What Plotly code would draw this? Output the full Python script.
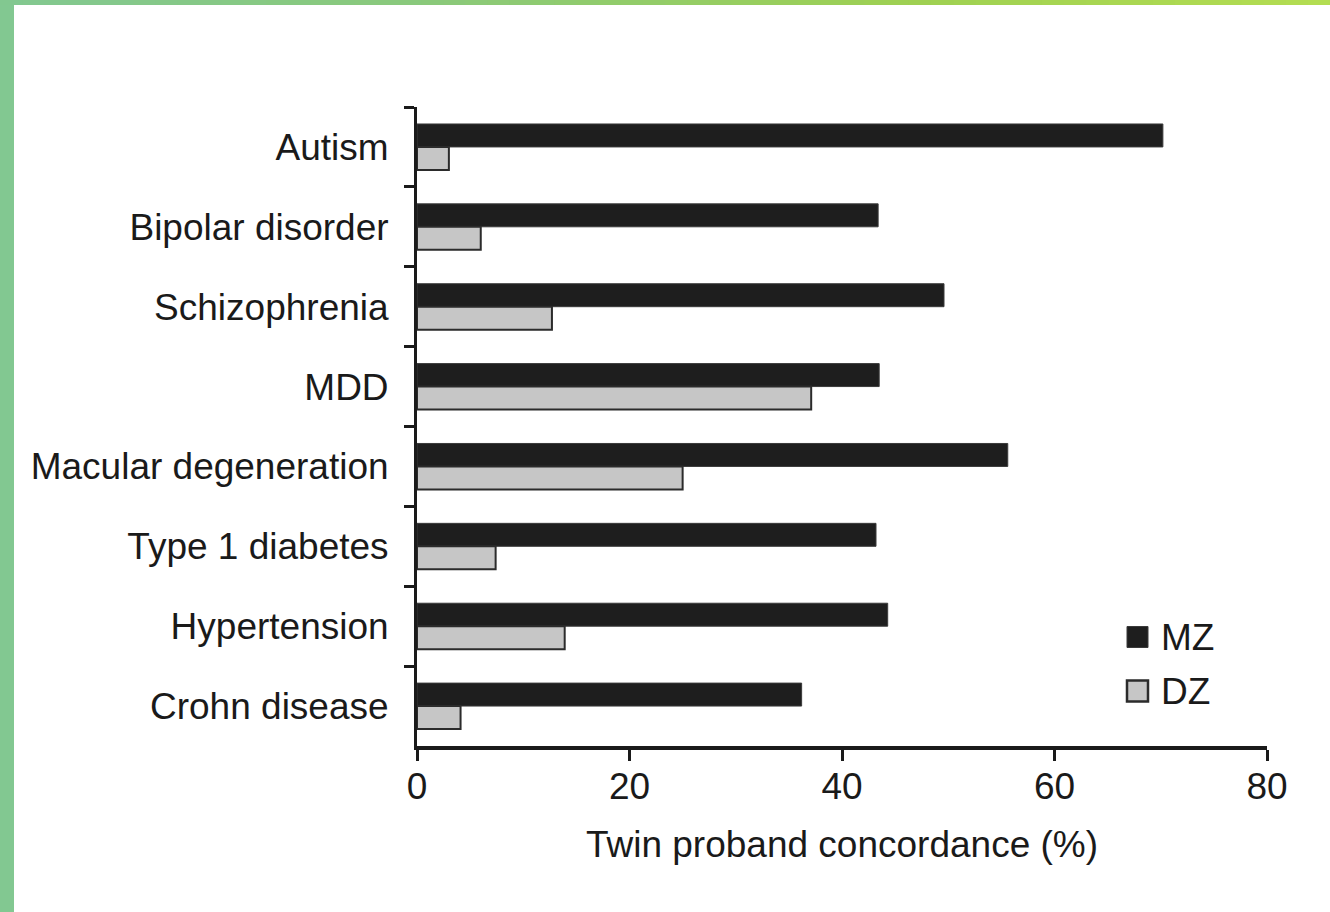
import plotly.graph_objects as go

# Twin proband concordance (%) for monozygotic (MZ) and dizygotic (DZ) twins
categories = [
    "Autism",
    "Bipolar disorder",
    "Schizophrenia",
    "MDD",
    "Macular degeneration",
    "Type 1 diabetes",
    "Hypertension",
    "Crohn disease",
]
mz_values = [70.2, 43.4, 49.6, 43.5, 55.6, 43.2, 44.3, 36.2]
dz_values = [3.0, 6.0, 12.7, 37.1, 25.0, 7.4, 13.9, 4.1]
series_names = ["MZ", "DZ"]
x_ticks = [0, 20, 40, 60, 80]

# Page geometry (pixels)
W, H = 1330, 912
ML, MR, MT, MB = 417, 63, 107, 166
PW, PH = W - ML - MR, H - MT - MB


def px_x(p):
    return (p - ML) / PW


def px_y(p):
    return (H - MB - p) / PH


FONT = "Liberation Sans, Arial, Helvetica, sans-serif"
FS = 37
INK = "#1a1a1a"
MZ_FILL = "#1e1e1e"
DZ_FILL = "#c6c6c6"
DZ_EDGE = "#2b2b2b"

fig = go.Figure()
fig.add_trace(go.Bar(
    y=categories, x=mz_values, orientation="h", name=series_names[0],
    marker=dict(color=MZ_FILL, line=dict(color="#3a3a3a", width=1)),
    showlegend=False,
))
fig.add_trace(go.Bar(
    y=categories, x=dz_values, orientation="h", name=series_names[1],
    marker=dict(color=DZ_FILL, line=dict(color=DZ_EDGE, width=2)),
    showlegend=False,
))

shapes = []

# Green frame: solid left stripe and a gradient strip across the top
shapes.append(dict(type="rect", xref="paper", yref="paper",
                   x0=px_x(0), x1=px_x(14), y0=px_y(H), y1=px_y(0),
                   fillcolor="#82c891", line=dict(width=0), layer="below"))

stops = [(0.0, (130, 200, 145)), (0.33, (138, 201, 122)),
         (0.68, (158, 208, 82)), (1.0, (180, 221, 82))]


def grad(t):
    for (t0, c0), (t1, c1) in zip(stops[:-1], stops[1:]):
        if t <= t1:
            f = (t - t0) / (t1 - t0)
            return "rgb(%d,%d,%d)" % tuple(round(a + (b - a) * f) for a, b in zip(c0, c1))
    return "rgb(%d,%d,%d)" % stops[-1][1]


n_seg = 60
for i in range(n_seg):
    x0 = W * i / n_seg
    x1 = W * (i + 1) / n_seg + 1
    shapes.append(dict(type="rect", xref="paper", yref="paper",
                       x0=px_x(x0), x1=px_x(x1), y0=px_y(5), y1=px_y(0),
                       fillcolor=grad((i + 0.5) / n_seg), line=dict(width=0),
                       layer="below"))

# Legend swatches
legend_rows = [(637, MZ_FILL, "#3a3a3a", 1), (691, DZ_FILL, DZ_EDGE, 2.5)]
annotations = []
for name, (cy, fill, edge, lw) in zip(series_names, legend_rows):
    shapes.append(dict(type="rect", xref="paper", yref="paper",
                       x0=px_x(1127), x1=px_x(1148), y0=px_y(cy + 10.5), y1=px_y(cy - 10.5),
                       fillcolor=fill, line=dict(color=edge, width=lw)))
    annotations.append(dict(xref="paper", yref="paper", x=px_x(1159), y=px_y(cy),
                            xanchor="left", yanchor="middle", showarrow=False,
                            text=name, font=dict(family=FONT, size=FS, color=INK)))

fig.update_layout(
    width=W, height=H,
    margin=dict(l=ML, r=MR, t=MT, b=MB, pad=0),
    paper_bgcolor="white", plot_bgcolor="white",
    barmode="group", bargap=0.425, bargroupgap=0.0,
    font=dict(family=FONT, size=FS, color=INK),
    shapes=shapes, annotations=annotations,
    showlegend=False,
)
fig.update_xaxes(
    range=[0, 80], tickvals=x_ticks, ticktext=[str(v) for v in x_ticks],
    showgrid=False, zeroline=False,
    showline=True, linecolor=INK, linewidth=3.5,
    ticks="outside", ticklen=11, tickwidth=3, tickcolor=INK,
    ticklabelstandoff=-6,
    tickfont=dict(family=FONT, size=FS, color=INK),
    title=dict(text="Twin proband concordance (%)",
               font=dict(family=FONT, size=FS, color=INK), standoff=26),
)
fig.update_yaxes(
    type="category", categoryorder="array", categoryarray=categories,
    range=[len(categories) - 0.5, -0.5],
    showgrid=False, zeroline=False,
    showline=True, linecolor=INK, linewidth=3,
    ticks="outside", ticklen=10, tickwidth=3, tickcolor=INK,
    tickson="boundaries", ticklabelstandoff=18,
    tickfont=dict(family=FONT, size=FS, color=INK),
)

fig.write_html("out.html")
